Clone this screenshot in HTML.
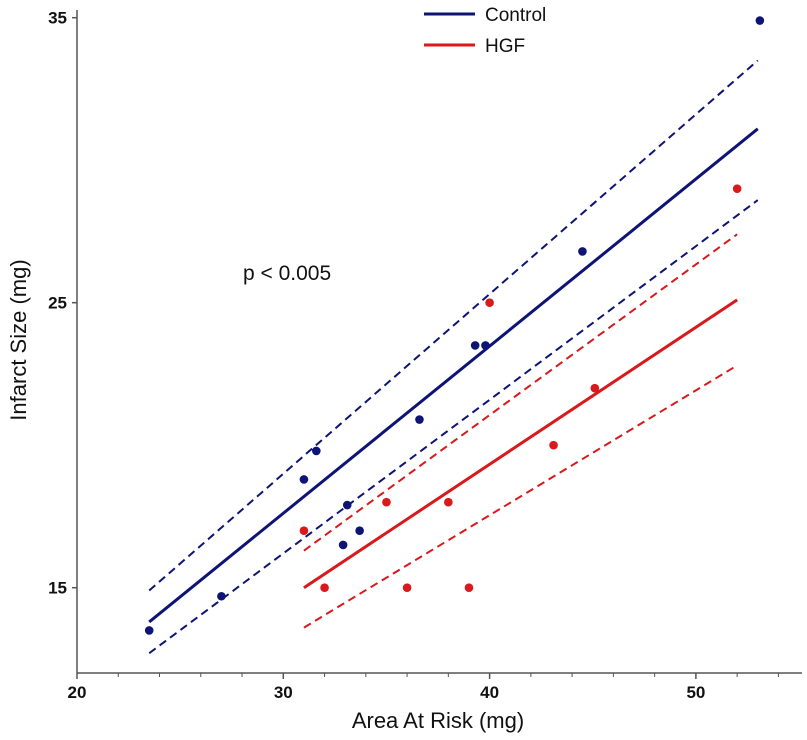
<!DOCTYPE html>
<html><head><meta charset="utf-8"><style>
body{margin:0;background:#fff;}
svg{display:block;font-family:"Liberation Sans",sans-serif;}
</style></head><body>
<svg id="chart" width="807" height="740"></svg>
<script>
const xTicks=[20,30,40,50];
const yTicks=[15,25,35];
const controlX=[23.5,27.0,31.0,31.6,32.9,33.1,33.7,36.6,39.3,39.8,44.5,53.1];
const controlY=[13.5,14.7,18.8,19.8,16.5,17.9,17.0,20.9,23.5,23.5,26.8,34.9];
const hgfX=[31.0,32.0,35.0,36.0,38.0,39.0,40.0,43.1,45.1,52.0];
const hgfY=[17.0,15.0,18.0,15.0,18.0,15.0,25.0,20.0,22.0,29.0];
const controlFitX=[23.5,53];
const controlFitY=[13.8,31.1];
const controlUpperY=[14.9,33.5];
const controlLowerY=[12.7,28.6];
const hgfFitX=[31,52];
const hgfFitY=[15.0,25.1];
const hgfUpperY=[16.3,27.4];
const hgfLowerY=[13.6,22.8];

const NS="http://www.w3.org/2000/svg";
const svg=document.getElementById('chart');
const sx=v=>77+(v-20)*20.63;
const sy=v=>302.7-(v-25)*28.5;
function mk(t,a){const e=document.createElementNS(NS,t);for(const k in a)e.setAttribute(k,a[k]);svg.appendChild(e);return e;}
const BLUE="#0d1475",RED="#d9191c";
let ax=mk('line',{x1:77,y1:10,x2:77,y2:673,stroke:'#555','stroke-width':1.5});


ax=mk('line',{x1:77,y1:673,x2:802,y2:673,stroke:'#555','stroke-width':1.5});


for(let v=22;v<=54;v+=2){const t=mk('line',{x1:sx(v),y1:673,x2:sx(v),y2:677,stroke:'#555','stroke-width':1});

}
xTicks.forEach(v=>{mk('line',{x1:sx(v),y1:673,x2:sx(v),y2:679,stroke:'#555','stroke-width':1.5});
const t=mk('text',{x:sx(v),y:698,'text-anchor':'middle','font-size':17,'font-weight':'bold',fill:'#111'});t.textContent=v;

});
yTicks.forEach(v=>{mk('line',{x1:72,y1:sy(v),x2:77,y2:sy(v),stroke:'#555','stroke-width':1.5});
const t=mk('text',{x:67,y:sy(v)+6,'text-anchor':'end','font-size':17,'font-weight':'bold',fill:'#111'});t.textContent=v;

});
let t=mk('text',{x:438,y:728,'text-anchor':'middle','font-size':22,fill:'#111'});t.textContent='Area At Risk (mg)';


t=mk('text',{x:0,y:0,'text-anchor':'middle','font-size':22,fill:'#111',transform:'translate(26,340) rotate(-90)'});t.textContent='Infarct Size (mg)';


t=mk('text',{x:243,y:280,'font-size':21,fill:'#111'});t.textContent='p < 0.005';


function line(xs,ys,c,dash,w,name){const l=mk('line',{x1:sx(xs[0]),y1:sy(ys[0]),x2:sx(xs[1]),y2:sy(ys[1]),stroke:c,'stroke-width':w});
if(dash)l.setAttribute('stroke-dasharray','8,5');

}
line(controlFitX,controlUpperY,BLUE,true,2,'control-upper-ci');
line(controlFitX,controlLowerY,BLUE,true,2,'control-lower-ci');
line(controlFitX,controlFitY,BLUE,false,3,'control-fit-line');
line(hgfFitX,hgfUpperY,RED,true,2,'hgf-upper-ci');
line(hgfFitX,hgfLowerY,RED,true,2,'hgf-lower-ci');
line(hgfFitX,hgfFitY,RED,false,3,'hgf-fit-line');
controlX.forEach((x,i)=>{const c=mk('circle',{cx:sx(x),cy:sy(controlY[i]),r:4.3,fill:BLUE});

});
hgfX.forEach((x,i)=>{const c=mk('circle',{cx:sx(x),cy:sy(hgfY[i]),r:4.3,fill:RED});

});
[['Control',BLUE,14],['HGF',RED,45]].forEach(([n,c,y])=>{
const l=mk('line',{x1:424,y1:y,x2:475,y2:y,stroke:c,'stroke-width':3});


const tx=mk('text',{x:485,y:y+7,'font-size':19,fill:'#111'});tx.textContent=n;

});
</script>
</body></html>
